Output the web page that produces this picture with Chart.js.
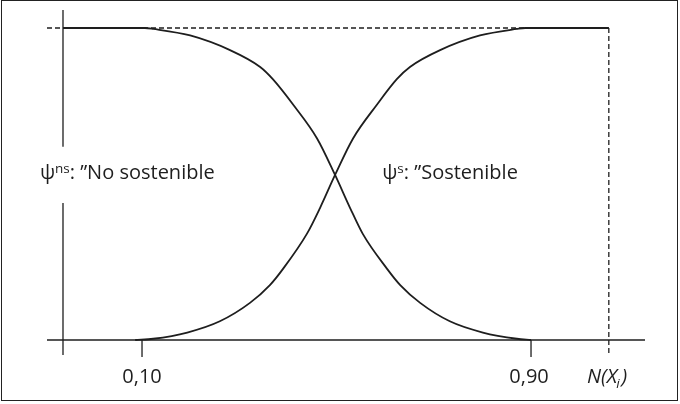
<!DOCTYPE html>
<html>
<head>
<meta charset="utf-8">
<script src="https://cdn.jsdelivr.net/npm/chart.js@4"></script>
<style>
  html, body { margin: 0; padding: 0; background: #fff; }
  #wrap { position: relative; width: 680px; height: 404px; }
  #frame { position: absolute; left: 1px; top: 0; width: 675px; height: 399px; border: 1.5px solid #222; pointer-events: none; }
</style>
</head>
<body>
<div id="wrap">
  <canvas id="chart"></canvas>
  <div id="frame"></div>
</div>
<script>
/* ── data: membership curves ── */
const nsX = [-0.0625, 0.106, 0.123, 0.199, 0.281, 0.343, 0.369, 0.411, 0.460, 0.497, 0.528, 0.554, 0.604, 0.631, 0.672, 0.733, 0.801, 0.871, 0.900];
const nsY = [1.000, 1.000, 0.997, 0.976, 0.929, 0.875, 0.836, 0.754, 0.646, 0.529, 0.423, 0.340, 0.228, 0.176, 0.119, 0.060, 0.024, 0.004, 0.000];

const sX = [0.086, 0.123, 0.193, 0.260, 0.322, 0.363, 0.390, 0.439, 0.466, 0.497, 0.534, 0.583, 0.624, 0.651, 0.713, 0.795, 0.871, 0.888, 1.060];
const sY = [0.000, 0.004, 0.024, 0.060, 0.119, 0.176, 0.228, 0.340, 0.423, 0.529, 0.646, 0.754, 0.836, 0.875, 0.929, 0.976, 0.997, 1.000, 1.000];

const tickVals   = [0.10, 0.90];
const tickLabels = ['0,10', '0,90'];
const axisTitle  = ['N(X', 'i', ')'];
const nsLabel    = ['ψ', 'ns', ': ”No sostenible'];
const sLabel     = ['ψ', 's', ': ”Sostenible'];

// scale extents (data units)
const X_MIN = -0.0954, X_MAX = 1.1344;
const Y_MIN = -0.0545, Y_MAX = 1.0577;
const X_END = 1.06;      // dashed limit
const Y_AXIS_X = -0.0625;

const INK = '#1e1e1e';
const pts = (xs, ys) => xs.map((x, i) => ({ x, y: ys[i] }));
const seg = (x0, y0, x1, y1) => [{ x: x0, y: y0 }, { x: x1, y: y1 }];

const curve = (data) => ({
  data, borderColor: INK, borderWidth: 1.8, pointRadius: 0,
  cubicInterpolationMode: 'monotone', fill: false,
});
const rule = (data, dash) => ({
  data, borderColor: INK, borderWidth: 1.3, pointRadius: 0,
  borderDash: dash || [], tension: 0, fill: false,
});

/* ── text drawn from the scales ── */
const labelPlugin = {
  id: 'labels',
  afterDraw(chart) {
    const { ctx, scales: { x, y } } = chart;
    ctx.save();
    ctx.fillStyle = INK;
    ctx.textBaseline = 'alphabetic';
    const base = '400 20px "Open Sans"';
    const small = '400 13.5px "Open Sans"';

    // tick labels
    ctx.font = base; ctx.textAlign = 'center';
    const tickY = y.getPixelForValue(-0.138);
    tickVals.forEach((v, i) => ctx.fillText(tickLabels[i], x.getPixelForValue(v) - i * 2, tickY));

    // axis title N(X_i)
    ctx.textAlign = 'left';
    let px = x.getPixelForValue(1.015);
    ctx.font = 'italic ' + base;
    ctx.fillText(axisTitle[0], px, tickY); px += ctx.measureText(axisTitle[0]).width;
    ctx.font = 'italic ' + small;
    ctx.fillText(axisTitle[1], px - 1, tickY + 5); px += ctx.measureText(axisTitle[1]).width;
    ctx.font = 'italic ' + base;
    ctx.fillText(axisTitle[2], px + 1, tickY);

    // curve labels
    const drawLabel = (parts, xv) => {
      const by = y.getPixelForValue(0.516);
      let lx = x.getPixelForValue(xv);
      ctx.font = base;  ctx.fillText(parts[0], lx, by); lx += ctx.measureText(parts[0]).width;
      ctx.font = small; ctx.fillText(parts[1], lx, by - 6); lx += ctx.measureText(parts[1]).width;
      ctx.font = base;  ctx.fillText(parts[2], lx, by);
    };
    drawLabel(nsLabel, -0.110);
    drawLabel(sLabel, 0.594);
    ctx.restore();
  }
};

new Chart(document.getElementById('chart'), {
  type: 'line',
  data: {
    datasets: [
      curve(pts(nsX, nsY)),
      curve(pts(sX, sY)),
      // axes
      rule(seg(X_MIN, 0, X_MAX, 0)),
      rule(seg(Y_AXIS_X, Y_MAX, Y_AXIS_X, 0.619)),
      rule(seg(Y_AXIS_X, 0.439, Y_AXIS_X, -0.048)),
      // tick marks
      rule(seg(tickVals[0], 0, tickVals[0], Y_MIN)),
      rule(seg(tickVals[1], 0, tickVals[1], Y_MIN)),
      // dashed guides
      rule(seg(X_MIN, 1, X_END, 1), [5, 3]),
      rule(seg(X_END, 1, X_END, -0.048), [5, 3]),
    ]
  },
  options: {
    responsive: true,
    maintainAspectRatio: false,
    animation: false,
    layout: { padding: { left: 47, right: 35, top: 10, bottom: 47 } },
    plugins: { legend: { display: false }, tooltip: { enabled: false } },
    scales: {
      x: { type: 'linear', min: X_MIN, max: X_MAX, display: false },
      y: { type: 'linear', min: Y_MIN, max: Y_MAX, display: false },
    }
  },
  plugins: [labelPlugin]
});
</script>
</body>
</html>
